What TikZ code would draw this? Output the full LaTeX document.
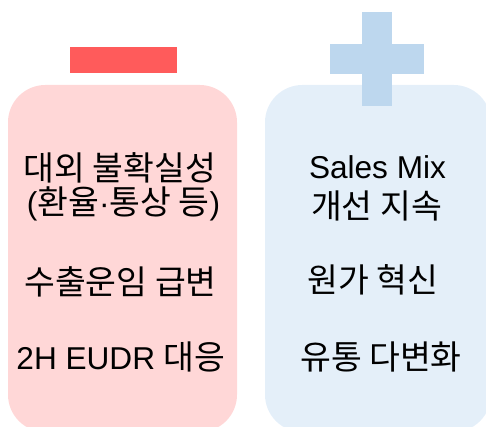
\documentclass[tikz,border=0pt]{standalone}
\usepackage{fontspec}
\setmainfont{Liberation Sans}
\newfontfamily\kr[Scale=1.06]{Noto Sans CJK KR}
\definecolor{minusred}{HTML}{FF5B5B}
\definecolor{pinkbox}{HTML}{FFD7D7}
\definecolor{bluebox}{HTML}{E4EFF9}
\definecolor{plusblue}{HTML}{BDD7EE}
\begin{document}
\begin{tikzpicture}[x=0.75pt,y=-0.75pt,
  panel/.style={rounded corners=28pt},
  lbl/.style={font=\fontsize{23.7}{28}\selectfont, align=center, text=black, inner sep=0pt}]
\useasboundingbox (0,0) rectangle (486,427);
\begin{scope}
\clip (0,0) rectangle (486,427);
\fill[pinkbox, panel] (8,85) rectangle (237,432);
\fill[bluebox, panel] (265,85) rectangle (491,432);
\end{scope}
\fill[minusred] (70,47) rectangle (177,73);
\fill[plusblue] (362,12) rectangle (392,106);
\fill[plusblue] (330,44) rectangle (424,74);
\node[lbl] (l1) at (120,168) {{\kr 대외 불확실성}};
\node[lbl] (l2) at (123.5,204) {({\kr 환율}·{\kr 통상 등})};
\node[lbl] (l3) at (120.5,282) {{\kr 수출운임 급변}};
\node[lbl] (l4) at (121,357) {2H EUDR {\kr 대응}};
\node[lbl] (r1) at (377.5,167) {Sales Mix};
\node[lbl] (r2) at (376.5,206) {{\kr 개선 지속}};
\node[lbl] (r3) at (373,280) {{\kr 원가 혁신}};
\node[lbl] (r4) at (381,357) {{\kr 유통 다변화}};
\end{tikzpicture}
\end{document}
